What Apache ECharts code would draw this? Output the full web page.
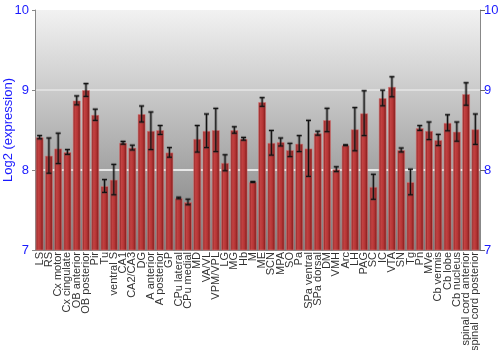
<!DOCTYPE html>
<html>
<head>
<meta charset="utf-8">
<script src="https://cdn.jsdelivr.net/npm/echarts@6/dist/echarts.min.js"></script>
<style>html,body{margin:0;padding:0;background:#fff}#c{width:500px;height:350px}</style>
</head>
<body>
<div id="c"></div>
<script>
var categories = ["LS","RS","Cx motor","Cx cingulate","OB anterior","OB posterior","Pir","Tu","ventral S","CA1","CA2/CA3","DG","A anterior","A posterior","GP","CPu lateral","CPu medial","MD","VA/VL","VPM/VPL","LG","MG","Hb","M","ME","SCN","MPA","SO","Pa","SPa ventral","SPa dorsal","DM","VMH","Arc","LH","PAG","SC","IC","VTA","SN","Tg","Pn","MVe","Cb vermis","Cb lobe","Cb nucleus","spinal cord anterior","spinal cord posterior"];
var values = [8.41,8.18,8.27,8.225,8.87,9.0,8.69,7.80,7.88,8.34,8.28,8.70,8.49,8.50,8.22,7.65,7.60,8.39,8.49,8.50,8.09,8.50,8.39,7.85,8.85,8.34,8.35,8.25,8.33,8.27,8.46,8.625,8.01,8.31,8.51,8.71,7.79,8.90,9.04,8.25,7.85,8.525,8.49,8.375,8.59,8.48,8.95,8.51];
var errors = [0.02,0.22,0.19,0.03,0.056,0.08,0.07,0.08,0.19,0.017,0.03,0.1,0.235,0.056,0.06,0.01,0.035,0.166,0.21,0.27,0.1,0.04,0.017,0.005,0.054,0.154,0.05,0.083,0.1,0.35,0.025,0.146,0.03,0.005,0.27,0.28,0.156,0.098,0.125,0.025,0.16,0.03,0.11,0.07,0.1,0.12,0.14,0.19];
var yTicks = [7, 8, 9, 10];

var errData = values.map(function (v, i) { return [i, v - errors[i], v + errors[i]]; });

var chart = echarts.init(document.getElementById('c'), null, {renderer: 'canvas'});
var blue = '#1a1aff';
var font = 'Liberation Sans, Arial, sans-serif';
chart.setOption({
  animation: false,
  grid: {
    left: 35, right: 20, top: 10, bottom: 100, show: true, borderWidth: 0,
    containLabel: false, outerBoundsMode: 'none',
    backgroundColor: new echarts.graphic.LinearGradient(0, 0, 0, 1, [
      {offset: 0, color: '#f2f2f2'},
      {offset: 1, color: '#7c7c7c'}
    ])
  },
  xAxis: {
    type: 'category',
    data: categories,
    axisLine: {show: true, lineStyle: {color: '#888'}},
    axisTick: {show: false},
    axisLabel: {
      interval: 0, rotate: 90, margin: 2, hideOverlap: false,
      fontFamily: font, fontSize: 11, color: '#333'
    }
  },
  yAxis: [{
    type: 'value', min: 7, max: 10, interval: 1, position: 'left',
    name: 'Log2 (expression)', nameLocation: 'middle', nameGap: 20, nameMoveOverlap: false,
    nameTextStyle: {color: blue, fontSize: 13, fontFamily: font},
    axisLine: {show: true, lineStyle: {color: '#888'}},
    axisTick: {show: true, length: 3, lineStyle: {color: '#888'}},
    axisLabel: {color: blue, fontSize: 13, margin: 6, fontFamily: font,
      formatter: function (v) { return yTicks.indexOf(v) >= 0 ? String(v) : ''; }},
    splitLine: {show: true, lineStyle: {color: ['rgba(0,0,0,0)', '#ffffff', '#e6e6e6', 'rgba(0,0,0,0)'], width: 1.5}}
  }, {
    type: 'value', min: 7, max: 10, interval: 1, position: 'right',
    axisLine: {show: true, lineStyle: {color: '#888'}},
    axisTick: {show: true, length: 5, lineStyle: {color: '#666'}},
    axisLabel: {color: blue, fontSize: 13, margin: 4, fontFamily: font},
    splitLine: {show: false}
  }],
  series: [{
    type: 'bar',
    data: values,
    barCategoryGap: '14%',
    itemStyle: {
      color: new echarts.graphic.LinearGradient(0, 0, 1, 0, [
        {offset: 0, color: '#7a1616'},
        {offset: 0.3, color: '#c24242'},
        {offset: 0.6, color: '#b53535'},
        {offset: 1, color: '#741414'}
      ]),
      borderColor: 'rgba(220,120,120,0.55)',
      borderWidth: 1
    }
  }, {
    type: 'custom',
    data: errData,
    z: 10,
    renderItem: function (params, api) {
      var x = api.value(0);
      var lo = api.coord([x, api.value(1)]);
      var hi = api.coord([x, api.value(2)]);
      var hw = 2.5;
      var base = {stroke: '#111', lineWidth: 1.1};
      var shadow = {stroke: 'rgba(60,60,60,0.4)', lineWidth: 3};
      return {
        type: 'group',
        children: [
          {type: 'line', shape: {x1: lo[0], y1: lo[1], x2: hi[0], y2: hi[1]}, style: shadow},
          {type: 'line', shape: {x1: lo[0] - hw, y1: lo[1], x2: lo[0] + hw, y2: lo[1]}, style: shadow},
          {type: 'line', shape: {x1: hi[0] - hw, y1: hi[1], x2: hi[0] + hw, y2: hi[1]}, style: shadow},
          {type: 'line', shape: {x1: lo[0], y1: lo[1], x2: hi[0], y2: hi[1]}, style: base},
          {type: 'line', shape: {x1: lo[0] - hw, y1: lo[1], x2: lo[0] + hw, y2: lo[1]}, style: base},
          {type: 'line', shape: {x1: hi[0] - hw, y1: hi[1], x2: hi[0] + hw, y2: hi[1]}, style: base}
        ]
      };
    }
  }]
});
</script>
</body>
</html>
